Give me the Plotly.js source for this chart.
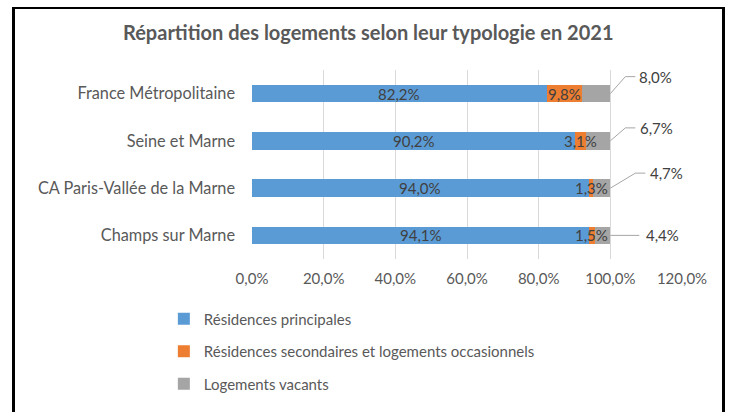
<!DOCTYPE html>
<html>
<head>
<meta charset="utf-8">
<script src="https://cdn.plot.ly/plotly-3.0.1.min.js"></script>
<style>
html,body{margin:0;padding:0;background:#fff;overflow:hidden;}
#chart{width:734px;height:412px;position:relative;}
#frame{position:absolute;left:12px;top:7px;width:707px;height:420px;border-left:3px solid #000;border-right:3px solid #000;border-top:2px solid #000;pointer-events:none;}
</style>
</head>
<body>
<div id="chart"></div>
<div id="frame"></div>
<script>
const categories = ["France Métropolitaine", "Seine et Marne", "CA Paris-Vallée de la Marne", "Champs sur Marne"];
const seriesNames = ["Résidences principales", "Résidences secondaires et logements occasionnels", "Logements vacants"];
const principales = [82.2, 90.2, 94.0, 94.1];
const secondaires = [9.8, 3.1, 1.3, 1.5];
const vacants = [8.0, 6.7, 4.7, 4.4];
const xTicks = [0, 20, 40, 60, 80, 100, 120];
const xTickLabels = ["0,0%", "20,0%", "40,0%", "60,0%", "80,0%", "100,0%", "120,0%"];
const colors = ["#5B9BD5", "#ED7D31", "#A5A5A5"];

// leader-line geometry (pixels, relative to the end of each bar): elbow dx, dy, end dx
const leaderElbowDx = [15, 15, 25, 0];
const leaderElbowDy = [17, 13, 15, 0];
const leaderEndDx = [25, 25, 35, 29];
const leaderTextGap = [2, 3, 3, 5];

const FONT = "Lato, 'Open Sans', sans-serif";
const idx = categories.map((c, i) => i);
const fmt = v => v.toFixed(1).replace('.', ',') + '%';
const BARW = 0.375;

const series = [principales, secondaires, vacants];
const traces = series.map((vals, s) => ({
  type: 'bar',
  orientation: 'h',
  name: seriesNames[s],
  x: vals,
  y: idx,
  width: BARW,
  marker: {color: colors[s]},
  legendgroup: 'g' + s,
  hoverinfo: 'skip'
}));

const labelFont = {family: FONT, size: 15, color: '#404040'};
const annotations = [];
const shapes = [];
idx.forEach(i => {
  annotations.push({x: principales[i] / 2, y: i, text: fmt(principales[i]), showarrow: false, font: labelFont});
  annotations.push({x: principales[i] + secondaires[i] / 2, y: i, text: fmt(secondaires[i]), showarrow: false, font: labelFont});
  const total = principales[i] + secondaires[i] + vacants[i];
  const ex = leaderElbowDx[i], ey = leaderElbowDy[i], end = leaderEndDx[i];
  shapes.push({
    type: 'path', xref: 'x', yref: 'y', xsizemode: 'pixel', ysizemode: 'pixel',
    xanchor: total, yanchor: i,
    path: 'M0,0L' + ex + ',' + ey + 'L' + end + ',' + ey,
    line: {color: '#A6A6A6', width: 1}, layer: 'above'
  });
  annotations.push({
    x: total, y: i, xanchor: 'left', yanchor: 'middle',
    xshift: end + leaderTextGap[i], yshift: ey,
    text: fmt(vacants[i]), showarrow: false, font: labelFont
  });
});
annotations.push({
  xref: 'paper', yref: 'paper', x: 0.27, y: 1.2, yanchor: 'middle', xanchor: 'center',
  text: '<b>Répartition des logements selon leur typologie en 2021</b>', showarrow: false,
  font: {family: FONT, size: 20, color: '#595959'}
});

const layout = {
  width: 734, height: 412,
  margin: {l: 252, r: 52, t: 70, b: 150},
  paper_bgcolor: '#fff', plot_bgcolor: '#fff',
  separators: ', ',
  barmode: 'stack',
  showlegend: true,
  font: {family: FONT, color: '#595959', size: 15},
  xaxis: {
    range: [0, 120], tickvals: xTicks, ticktext: xTickLabels,
    showgrid: true, gridcolor: '#D9D9D9', gridwidth: 1, zeroline: false,
    showline: false, ticks: '', ticklabelstandoff: 9,
    tickfont: {family: FONT, size: 15, color: '#595959'}, fixedrange: true
  },
  yaxis: {
    range: [3.5, -0.5], tickvals: idx, ticktext: categories,
    showgrid: false, zeroline: false, showline: false, ticks: '',
    ticklabelstandoff: 16,
    tickfont: {family: FONT, size: 16.3, color: '#595959'}, fixedrange: true
  },
  legend: {
    orientation: 'v', x: -0.205, xanchor: 'left', y: -0.23, yanchor: 'top',
    tracegroupgap: 10, traceorder: 'grouped',
    font: {family: FONT, size: 15, color: '#595959'}, bgcolor: 'rgba(0,0,0,0)'
  },
  shapes: shapes,
  annotations: annotations
};

Plotly.newPlot('chart', traces, layout, {displayModeBar: false, staticPlot: true});
</script>
</body>
</html>
